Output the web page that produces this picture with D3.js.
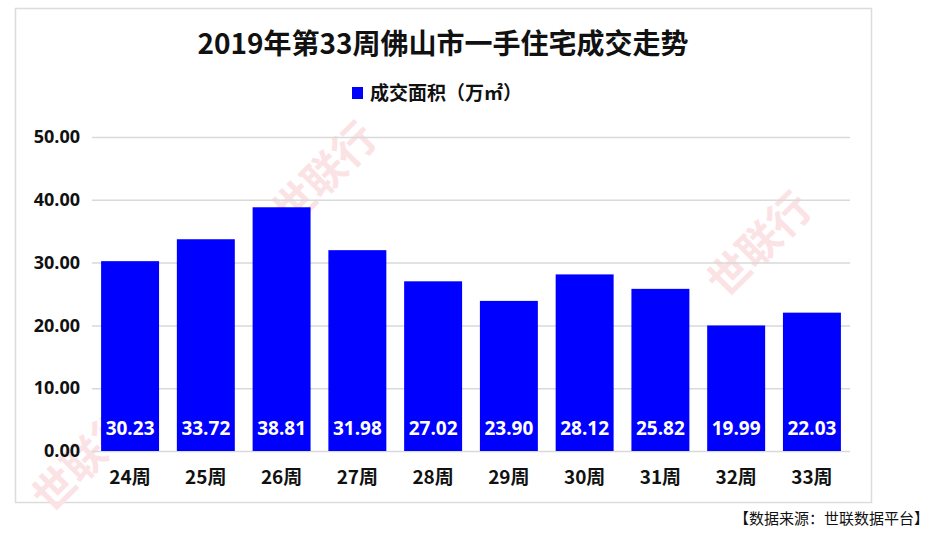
<!DOCTYPE html>
<meta charset="utf-8">
<style>
body { margin: 0; background: #fff; }
svg { font-family: "Noto Sans CJK SC", "Noto Sans", sans-serif; }
.tick line { stroke: #d9d9d9; stroke-width: 1.5; }
.domain { display: none; }
</style>
<body>
<svg id="chart" width="937" height="538"></svg>
<script src="https://cdnjs.cloudflare.com/ajax/libs/d3/7.8.5/d3.min.js"></script>
<script>
// data
var weeks = ["24周", "25周", "26周", "27周", "28周", "29周", "30周", "31周", "32周", "33周"];
var area = [30.23, 33.72, 38.81, 31.98, 27.02, 23.90, 28.12, 25.82, 19.99, 22.03];
var yTicks = [0, 10, 20, 30, 40, 50];
var title = "2019年第33周佛山市一手住宅成交走势";
var legendLabel = "成交面积（万㎡）";
var sourceNote = "【数据来源：世联数据平台】";

var svg = d3.select("#chart");

// outer frame
svg.append("rect").attr("x", 15.5).attr("y", 8.5).attr("width", 856).attr("height", 494)
  .attr("fill", "#fff").attr("stroke", "#dcdcdc").attr("stroke-width", 1.5);

// faint watermarks
var wm = [[335, 185], [770, 255], [95, 470]];
svg.selectAll(".wm").data(wm).enter().append("text")
  .attr("class", "wm")
  .attr("transform", function (d) { return "translate(" + d[0] + "," + d[1] + ") rotate(-45)"; })
  .attr("text-anchor", "middle")
  .attr("font-size", 42).attr("font-weight", "bold")
  .attr("fill", "#fbe3e5")
  .text("世联行");

var x = d3.scaleBand().domain(weeks).range([92, 850]).paddingInner(0.235).paddingOuter(0.12);
var y = d3.scaleLinear().domain([0, 50]).range([451, 137]);

// grid + y labels
var yAxis = svg.append("g").attr("transform", "translate(92,0)")
  .call(d3.axisLeft(y).tickValues(yTicks).tickSize(-758).tickPadding(12)
    .tickFormat(function (d) { return d3.format(".2f")(d); }));
yAxis.selectAll("text").attr("font-size", 18).attr("font-weight", "bold").attr("fill", "#111")
  .attr("font-family", "'Open Sans', 'Noto Sans', sans-serif");

// bars
svg.selectAll(".bar").data(area).enter().append("rect")
  .attr("class", "bar")
  .attr("x", function (d, i) { return x(weeks[i]); })
  .attr("width", x.bandwidth())
  .attr("y", function (d) { return y(d); })
  .attr("height", function (d) { return y(0) - y(d); })
  .attr("fill", "#0000ff");

// value labels
svg.selectAll(".val").data(area).enter().append("text")
  .attr("x", function (d, i) { return x(weeks[i]) + x.bandwidth() / 2; })
  .attr("y", 435)
  .attr("text-anchor", "middle")
  .attr("font-size", 19).attr("font-weight", "bold").attr("fill", "#fff")
  .attr("font-family", "'Open Sans', 'Noto Sans', sans-serif")
  .text(function (d) { return d.toFixed(2); });

// x labels
svg.selectAll(".cat").data(weeks).enter().append("text")
  .attr("x", function (d) { return x(d) + x.bandwidth() / 2; })
  .attr("y", 484)
  .attr("text-anchor", "middle")
  .attr("font-size", 19).attr("font-weight", "bold").attr("fill", "#111")
  .text(function (d) { return d; });

// title
svg.append("text").attr("x", 443).attr("y", 54).attr("text-anchor", "middle")
  .attr("font-size", 28).attr("font-weight", "bold").attr("fill", "#111")
  .text(title);

// legend
svg.append("rect").attr("x", 352).attr("y", 87).attr("width", 11).attr("height", 12).attr("fill", "#0000ff");
svg.append("text").attr("x", 370).attr("y", 100).attr("font-size", 19).attr("font-weight", "bold").attr("fill", "#111")
  .text(legendLabel);

// source
svg.append("text").attr("x", 929).attr("y", 524).attr("text-anchor", "end")
  .attr("font-size", 15).attr("fill", "#111")
  .text(sourceNote);
</script>
</body>
